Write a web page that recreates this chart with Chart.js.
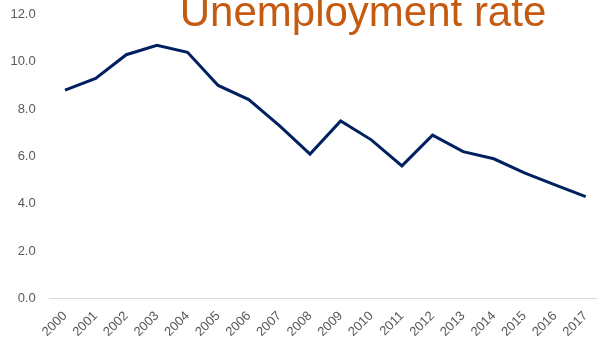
<!DOCTYPE html>
<html>
<head>
<meta charset="utf-8">
<script src="https://cdn.jsdelivr.net/npm/chart.js@4"></script>
<style>
  html, body { margin: 0; padding: 0; background: #fff; overflow: hidden; }
  /* plot runs a few px past the right edge, like the original */
  #wrap { width: 601px; height: 345px; }
</style>
</head>
<body>
<div id="wrap"><canvas id="rateChart"></canvas></div>
<script>
const years = ['2000', '2001', '2002', '2003', '2004', '2005', '2006', '2007', '2008',
  '2009', '2010', '2011', '2012', '2013', '2014', '2015', '2016', '2017'];
const rates = [8.8, 9.3, 10.3, 10.7, 10.4, 9.0, 8.4, 7.3, 6.1,
  7.5, 6.7, 5.6, 6.9, 6.2, 5.9, 5.3, 4.8, 4.3];
const yTicks = [0, 2, 4, 6, 8, 10, 12];
const titleText = 'Unemployment rate';

const labelFont = { family: '"Liberation Sans", Arial, sans-serif', size: 13 };

// title sits partly above the top edge, so it is drawn by hand
const titlePlugin = {
  id: 'topTitle',
  afterDraw(chart) {
    const ctx = chart.ctx;
    ctx.save();
    ctx.font = '42px "Liberation Sans", Arial, sans-serif';
    ctx.fillStyle = '#C55A11';
    ctx.textAlign = 'center';
    ctx.textBaseline = 'alphabetic';
    ctx.fillText(titleText, 363, 25.5);
    ctx.restore();
  }
};

new Chart(document.getElementById('rateChart'), {
  type: 'line',
  data: {
    labels: years,
    datasets: [{
      label: titleText,
      data: rates,
      borderColor: '#002060',
      borderWidth: 3,
      pointRadius: 0,
      tension: 0,
      fill: false
    }]
  },
  options: {
    responsive: true,
    maintainAspectRatio: false,
    animation: false,
    layout: { padding: { left: 0, right: 0, top: 14.5, bottom: 0 } },
    plugins: {
      legend: { display: false },
      title: { display: false },
      tooltip: { enabled: false }
    },
    scales: {
      x: {
        offset: true,
        grid: { display: false, drawTicks: false },
        border: { display: true, color: '#D9D9D9', width: 1 },
        afterFit(axis) {
          axis.height = 46.7;
          axis.paddingLeft = 0;
          axis.paddingRight = 0;
        },
        ticks: {
          color: '#595959',
          font: labelFont,
          minRotation: 45,
          maxRotation: 45,
          autoSkip: false,
          padding: 10
        }
      },
      y: {
        min: 0,
        max: 12,
        grid: { display: false, drawTicks: false },
        border: { display: false },
        afterBuildTicks(axis) {
          axis.ticks = yTicks.map(v => ({ value: v }));
        },
        afterFit(axis) {
          axis.width = 49.7;
          axis.paddingTop = 0;
          axis.paddingBottom = 0;
        },
        ticks: {
          color: '#595959',
          font: labelFont,
          padding: 14,
          callback: v => Number(v).toFixed(1)
        }
      }
    }
  },
  plugins: [titlePlugin]
});
</script>
</body>
</html>
